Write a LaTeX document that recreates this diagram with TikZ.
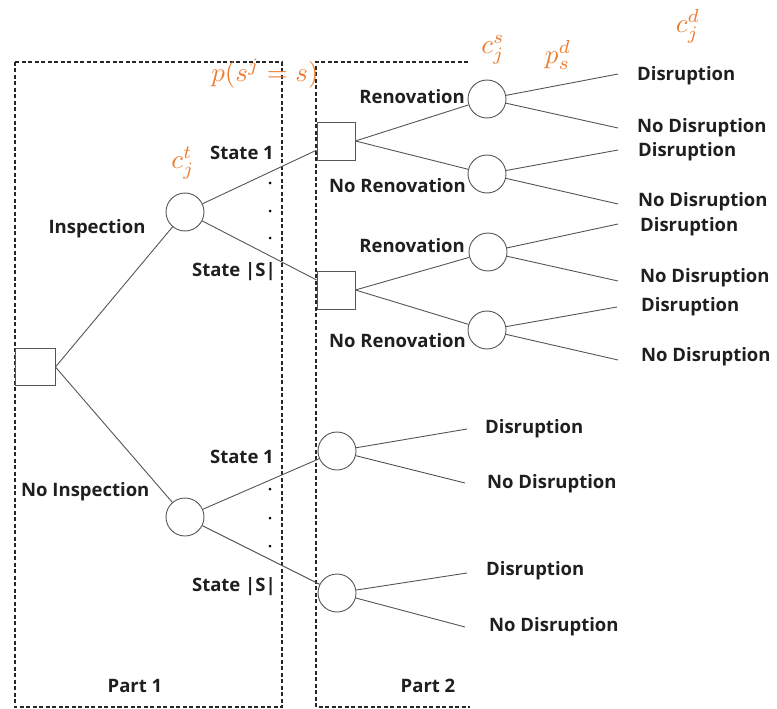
\documentclass[tikz,border=0pt]{standalone}
\usepackage{fontspec}
\setmainfont{Open Sans}
\definecolor{orng}{RGB}{237,125,49}
\definecolor{edgegray}{RGB}{85,85,85}
\tikzset{
  chance/.style={draw=edgegray, line width=0.9pt, circle, minimum size=38pt, inner sep=0pt},
  decision/.style={draw=edgegray, line width=0.9pt, rectangle, minimum width=38pt, minimum height=38pt, inner sep=0pt},
  branch/.style={draw=edgegray, line width=0.9pt},
  lbl/.style={font=\fontsize{18.5}{20}\selectfont\bfseries, inner sep=0pt, text=black!88},
  mlbl/.style={text=orng, inner sep=0pt},
  partbox/.style={draw=black!85, line width=1.6pt, dash pattern=on 4pt off 2.5pt},
  vdot/.style={circle, fill=black, inner sep=0pt, minimum size=3pt}
}
\begin{document}
\begin{tikzpicture}[x=1pt,y=-1pt]
\useasboundingbox (0,0) rectangle (777,709);
% part boxes
\draw[partbox] (15,62) rectangle (282,707);
\draw[partbox] (468,62) -- (316,62) -- (316,707) -- (470,707);
% nodes
\node[decision, minimum width=40pt, minimum height=37pt, fill=white] (root) at (35,367) {};
\node[chance] (ci) at (185,212) {};
\node[chance] (cn) at (185,517) {};
\node[decision] (s1) at (336,141) {};
\node[decision] (s2) at (336,290) {};
\node[chance] (r1) at (487,99) {};
\node[chance] (n1) at (487,174) {};
\node[chance] (r2) at (488,252) {};
\node[chance] (n2) at (487,330) {};
\node[chance] (l1) at (337,451) {};
\node[chance] (l2) at (337,593) {};
% end points
\coordinate (e1a) at (618,74);
\coordinate (e1b) at (618,128);
\coordinate (e2a) at (618,150);
\coordinate (e2b) at (618,204);
\coordinate (e3a) at (618,224);
\coordinate (e3b) at (618,281);
\coordinate (e4a) at (617,307);
\coordinate (e4b) at (618,360);
\coordinate (f1a) at (467,429);
\coordinate (f1b) at (465,483);
\coordinate (f2a) at (467,573);
\coordinate (f2b) at (465,627);
% branches
\draw[branch] (root.east) -- (ci);
\draw[branch] (root.east) -- (cn);
\draw[branch] (ci) -- (s1);
\draw[branch] (ci) -- (s2);
\draw[branch] (cn) -- (l1);
\draw[branch] (cn) -- (l2);
\draw[branch] (s1.east) -- (r1);
\draw[branch] (s1.east) -- (n1);
\draw[branch] (s2.east) -- (r2);
\draw[branch] (s2.east) -- (n2);
\draw[branch] (r1) -- (e1a);
\draw[branch] (r1) -- (e1b);
\draw[branch] (n1) -- (e2a);
\draw[branch] (n1) -- (e2b);
\draw[branch] (r2) -- (e3a);
\draw[branch] (r2) -- (e3b);
\draw[branch] (n2) -- (e4a);
\draw[branch] (n2) -- (e4b);
\draw[branch] (l1) -- (f1a);
\draw[branch] (l1) -- (f1b);
\draw[branch] (l2) -- (f2a);
\draw[branch] (l2) -- (f2b);
% dots
\node[vdot] (d1) at (270,183) {};
\node[vdot] (d2) at (270,211) {};
\node[vdot] (d3) at (270,238) {};
\node[vdot] (d4) at (270,489) {};
\node[vdot] (d5) at (270,518) {};
\node[vdot] (d6) at (270,546) {};
% labels
\node[lbl, anchor=center] (tinsp) at (97,229) {Inspection};
\node[lbl, anchor=west] (tnoinsp) at (21,492) {No Inspection};
\node[lbl, anchor=east] (ts1a) at (274,153) {State 1};
\node[lbl, anchor=east] (tssa) at (276,272) {State |S|};
\node[lbl, anchor=east] (ts1b) at (274,457) {State 1};
\node[lbl, anchor=east] (tssb) at (276,587) {State |S|};
\node[lbl, anchor=east] (tren1) at (465,97) {Renovation};
\node[lbl, anchor=east] (tnren1) at (466,186) {No Renovation};
\node[lbl, anchor=east] (tren2) at (465,246) {Renovation};
\node[lbl, anchor=east] (tnren2) at (466,341) {No Renovation};
\node[lbl, anchor=west] (td1) at (637,76) {Disruption};
\node[lbl, anchor=west] (tn1) at (637,128) {No Disruption};
\node[lbl, anchor=west] (td2) at (638,152) {Disruption};
\node[lbl, anchor=west] (tn2) at (638,202) {No Disruption};
\node[lbl, anchor=west] (td3) at (640,227) {Disruption};
\node[lbl, anchor=west] (tn3) at (640,278) {No Disruption};
\node[lbl, anchor=west] (td4) at (641,307) {Disruption};
\node[lbl, anchor=west] (tn4) at (641,357) {No Disruption};
\node[lbl, anchor=west] (tdl1) at (485,429) {Disruption};
\node[lbl, anchor=west] (tnl1) at (487,484) {No Disruption};
\node[lbl, anchor=west] (tdl2) at (486,571) {Disruption};
\node[lbl, anchor=west] (tnl2) at (489,627) {No Disruption};
\node[lbl] (part1) at (135,686) {Part 1};
\node[lbl] (part2) at (428,686) {Part 2};
% orange math labels
\node[mlbl] (pss) at (265,74) {\scalebox{2.7}{$p(s^j = s)$}};
\node[mlbl] (cjt) at (183,163) {\scalebox{2.7}{$c_j^t$}};
\node[mlbl] (cjs) at (493,50) {\scalebox{2.7}{$c_j^s$}};
\node[mlbl] (psd) at (558,55) {\scalebox{2.7}{$p_s^d$}};
\node[mlbl] (cjd) at (688,26) {\scalebox{2.7}{$c_j^d$}};
\end{tikzpicture}
\end{document}
